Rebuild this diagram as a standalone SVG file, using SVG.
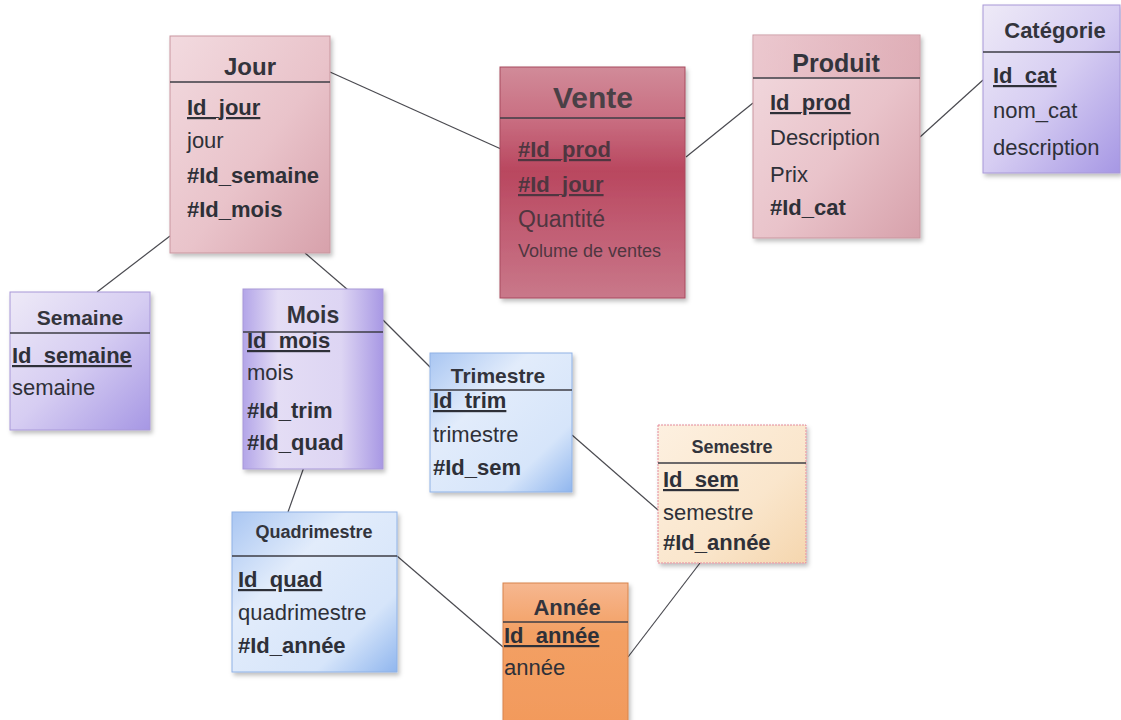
<svg xmlns="http://www.w3.org/2000/svg" width="1121" height="720" viewBox="0 0 1121 720">
  <defs>
    <linearGradient id="gPink" x1="0" y1="0" x2="1" y2="1">
      <stop offset="0" stop-color="#f2dadf"/>
      <stop offset="0.55" stop-color="#e9c3ca"/>
      <stop offset="1" stop-color="#d7a1ab"/>
    </linearGradient>
    <linearGradient id="gPinkHead" x1="0" y1="0" x2="1" y2="0">
      <stop offset="0" stop-color="#e7bcc4"/>
      <stop offset="1" stop-color="#d8a0aa"/>
    </linearGradient>
    <linearGradient id="gRose" x1="0" y1="0" x2="0" y2="1">
      <stop offset="0" stop-color="#d18b99"/>
      <stop offset="0.22" stop-color="#c96f82"/>
      <stop offset="0.45" stop-color="#b9475f"/>
      <stop offset="0.7" stop-color="#c15d73"/>
      <stop offset="1" stop-color="#c9788a"/>
    </linearGradient>
    <linearGradient id="gLav" x1="0" y1="0" x2="1" y2="1">
      <stop offset="0" stop-color="#eeeaf7"/>
      <stop offset="0.5" stop-color="#d6cdf2"/>
      <stop offset="1" stop-color="#a697e4"/>
    </linearGradient>
    <linearGradient id="gLavV" x1="0" y1="0" x2="1" y2="0">
      <stop offset="0" stop-color="#b3a5e8"/>
      <stop offset="0.25" stop-color="#e4ddf5"/>
      <stop offset="0.7" stop-color="#ddd5f3"/>
      <stop offset="1" stop-color="#a898e4"/>
    </linearGradient>
    <linearGradient id="gBlue" x1="0" y1="0" x2="1" y2="1">
      <stop offset="0" stop-color="#a9c6f2"/>
      <stop offset="0.35" stop-color="#e2ecfb"/>
      <stop offset="0.75" stop-color="#d6e5fa"/>
      <stop offset="1" stop-color="#90b6ee"/>
    </linearGradient>
    <linearGradient id="gPeach" x1="0" y1="0" x2="1" y2="1">
      <stop offset="0" stop-color="#fdf0e0"/>
      <stop offset="0.6" stop-color="#fae6cc"/>
      <stop offset="1" stop-color="#f5d6ae"/>
    </linearGradient>
    <linearGradient id="gOrange" x1="0" y1="0" x2="0" y2="1">
      <stop offset="0" stop-color="#f6b790"/>
      <stop offset="0.35" stop-color="#f3a064"/>
      <stop offset="1" stop-color="#f29a5c"/>
    </linearGradient>
    <filter id="shadow" x="-10%" y="-10%" width="125%" height="125%">
      <feDropShadow dx="2" dy="3" stdDeviation="2" flood-color="#000" flood-opacity="0.25"/>
    </filter>
    <style>
      .box { filter: url(#shadow); stroke-width: 1; }
      .sep { stroke: #3c3c44; stroke-width: 1.5; }
      .title { font-family: "Liberation Sans", Arial, sans-serif; font-weight: bold; fill: #33343c; text-anchor: middle; }
      .f { font-family: "Liberation Sans", Arial, sans-serif; font-size: 22px; fill: #2e3038; }
      .k { font-weight: bold; }
      .u { text-decoration: underline; }
      .v { fill: #4f3640; }
      .conn line { stroke: #4a4a50; stroke-width: 1.2; }
    </style>
  </defs>

  <rect width="1121" height="720" fill="#ffffff"/>

  <!-- relationship lines between tables -->
  <g id="connectors" class="conn">
    <line x1="330" y1="72" x2="501" y2="149"/>
    <line x1="686" y1="157" x2="753" y2="103"/>
    <line x1="920" y1="137" x2="983" y2="80"/>
    <line x1="170" y1="236" x2="97" y2="292"/>
    <line x1="305" y1="253" x2="348" y2="290"/>
    <line x1="383" y1="320" x2="431" y2="368"/>
    <line x1="304" y1="467" x2="288" y2="512"/>
    <line x1="572" y1="435" x2="658" y2="510"/>
    <line x1="397" y1="556" x2="503" y2="647"/>
    <line x1="700" y1="563" x2="628" y2="657"/>
  </g>

  <!-- Jour -->
  <g id="jour">
    <rect class="box" x="170" y="36" width="160" height="217" fill="url(#gPink)" stroke="#c9969f"/>
    <line class="sep" x1="170" y1="82" x2="330" y2="82"/>
    <text class="title" x="250" y="75" font-size="24">Jour</text>
    <text class="f k u" x="187" y="115">Id_jour</text>
    <text class="f" x="187" y="148">jour</text>
    <text class="f k" x="187" y="183">#Id_semaine</text>
    <text class="f k" x="187" y="217">#Id_mois</text>
  </g>

  <!-- Vente -->
  <g id="vente">
    <rect class="box" x="500" y="67" width="185" height="231" fill="url(#gRose)" stroke="#a84a5e"/>
    <line class="sep" x1="500" y1="118" x2="685" y2="118"/>
    <text class="title" x="593" y="108" font-size="30" style="fill:#4a4046">Vente</text>
    <text class="f k u v" x="518" y="157">#Id_prod</text>
    <text class="f k u v" x="518" y="192">#Id_jour</text>
    <text class="f v" x="518" y="227" style="font-size:23px">Quantité</text>
    <text class="f v" x="518" y="257" style="font-size:18px">Volume de ventes</text>
  </g>

  <!-- Produit -->
  <g id="produit">
    <rect class="box" x="753" y="35" width="167" height="203" fill="url(#gPink)" stroke="#c9969f"/>
    <rect x="753.5" y="35.5" width="166" height="42" fill="url(#gPinkHead)" opacity="0.6"/>
    <line class="sep" x1="753" y1="78" x2="920" y2="78"/>
    <text class="title" x="836" y="72" font-size="25">Produit</text>
    <text class="f k u" x="770" y="110">Id_prod</text>
    <text class="f" x="770" y="145">Description</text>
    <text class="f" x="770" y="182">Prix</text>
    <text class="f k" x="770" y="215">#Id_cat</text>
  </g>

  <!-- Catégorie -->
  <g id="categorie">
    <rect class="box" x="983" y="5" width="137" height="168" fill="url(#gLav)" stroke="#a898d8"/>
    <line class="sep" x1="983" y1="52" x2="1120" y2="52"/>
    <text class="title" x="1055" y="38" font-size="22">Catégorie</text>
    <text class="f k u" x="993" y="83">Id_cat</text>
    <text class="f" x="993" y="118">nom_cat</text>
    <text class="f" x="993" y="155">description</text>
  </g>

  <!-- Semaine -->
  <g id="semaine">
    <rect class="box" x="10" y="292" width="140" height="138" fill="url(#gLav)" stroke="#a898d8"/>
    <line class="sep" x1="10" y1="333" x2="150" y2="333"/>
    <text class="title" x="80" y="325" font-size="21">Semaine</text>
    <text class="f k u" x="12" y="363">Id_semaine</text>
    <text class="f" x="12" y="395">semaine</text>
  </g>

  <!-- Mois -->
  <g id="mois">
    <rect class="box" x="243" y="289" width="140" height="180" fill="url(#gLavV)" stroke="#a898d8"/>
    <line class="sep" x1="243" y1="332" x2="383" y2="332"/>
    <text class="title" x="313" y="323" font-size="23">Mois</text>
    <text class="f k u" x="247" y="348">Id_mois</text>
    <text class="f" x="247" y="380">mois</text>
    <text class="f k" x="247" y="418">#Id_trim</text>
    <text class="f k" x="247" y="450">#Id_quad</text>
  </g>

  <!-- Trimestre -->
  <g id="trimestre">
    <rect class="box" x="430" y="353" width="142" height="139" fill="url(#gBlue)" stroke="#8fb2e6"/>
    <line class="sep" x1="430" y1="390" x2="572" y2="390"/>
    <text class="title" x="498" y="383" font-size="21">Trimestre</text>
    <text class="f k u" x="433" y="408">Id_trim</text>
    <text class="f" x="433" y="442">trimestre</text>
    <text class="f k" x="433" y="475">#Id_sem</text>
  </g>

  <!-- Semestre -->
  <g id="semestre">
    <rect class="box" x="658" y="425" width="148" height="138" fill="url(#gPeach)" stroke="#e48a9a" stroke-dasharray="2 1"/>
    <line class="sep" x1="658" y1="463" x2="806" y2="463"/>
    <text class="title" x="732" y="453" font-size="18">Semestre</text>
    <text class="f k u" x="663" y="487">Id_sem</text>
    <text class="f" x="663" y="520">semestre</text>
    <text class="f k" x="663" y="550">#Id_année</text>
  </g>

  <!-- Quadrimestre -->
  <g id="quadrimestre">
    <rect class="box" x="232" y="512" width="165" height="160" fill="url(#gBlue)" stroke="#8fb2e6"/>
    <line class="sep" x1="232" y1="556" x2="397" y2="556"/>
    <text class="title" x="314" y="538" font-size="18">Quadrimestre</text>
    <text class="f k u" x="238" y="587">Id_quad</text>
    <text class="f" x="238" y="620">quadrimestre</text>
    <text class="f k" x="238" y="653">#Id_année</text>
  </g>

  <!-- Année -->
  <g id="annee">
    <rect class="box" x="503" y="583" width="125" height="140" fill="url(#gOrange)" stroke="#d8844c"/>
    <line class="sep" x1="503" y1="622" x2="628" y2="622"/>
    <text class="title" x="567" y="615" font-size="22">Année</text>
    <text class="f k u" x="504" y="643">Id_année</text>
    <text class="f" x="504" y="675">année</text>
  </g>
</svg>
